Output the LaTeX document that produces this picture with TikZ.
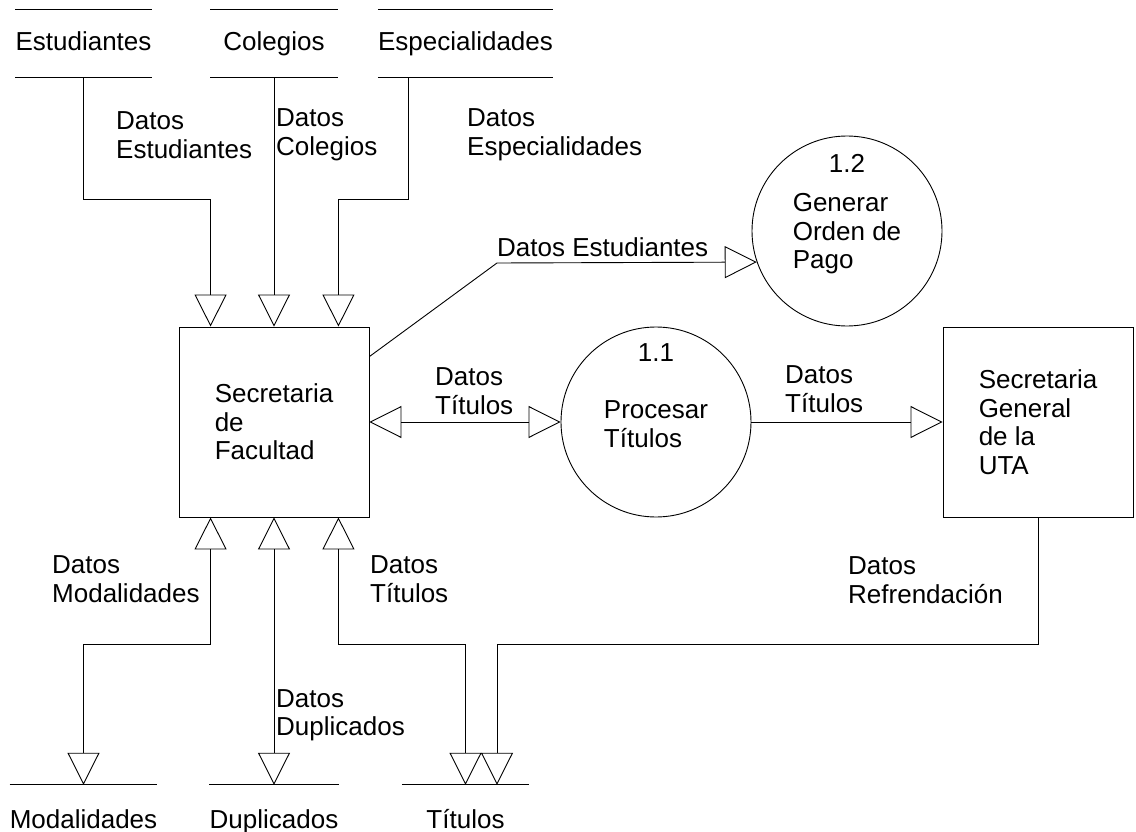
\documentclass[tikz,border=0pt]{standalone}
\usepackage{fontspec}
\setmainfont{Liberation Sans}
\usetikzlibrary{arrows.meta,calc,shapes.geometric}
\tikzset{
  tri/.tip={Triangle[open,length=32pt,width=32pt]},
  flow/.style={draw=black,line width=0.9pt,-tri},
  both/.style={draw=black,line width=0.9pt,tri-tri},
  store/.style={minimum width=127,minimum height=67,inner sep=0,text height=19pt,text depth=5pt},
  bstore/.style={minimum width=127,minimum height=72,inner sep=0,text height=19pt,text depth=5pt},
  entity/.style={draw=black,line width=0.9pt,minimum width=190,minimum height=190,inner sep=0,align=left},
  proc/.style={draw=black,line width=0.9pt,circle,minimum size=190,inner sep=0},
  lbl/.style={align=left,inner sep=0,anchor=west},
}
\begin{document}
\begin{tikzpicture}[x=1pt,y=-1pt,font=\fontsize{26}{28.5}\selectfont]
\useasboundingbox[fill=white] (0,0) rectangle (1136,832);
% stores
\node[store] (est) at (83.5,43.5) {Estudiantes};
\node[store] (col) at (274,43.5) {Colegios};
\node[store] (esp) at (465.5,43.5) {Especialidades};
\node[bstore] (mod) at (83.5,821) {Modalidades};
\node[bstore] (dup) at (274,821) {Duplicados};
\node[bstore] (tit) at (465.5,821) {Títulos};
\foreach \s in {est,col,esp}{
  \draw[line width=0.9pt] (\s.north west) -- (\s.north east);
  \draw[line width=0.9pt] (\s.south west) -- (\s.south east);
}
\foreach \s in {mod,dup,tit}{
  \draw[line width=0.9pt] (\s.north west) -- (\s.north east);
}
% entities
\node[entity] (sf) at (274,422) {Secretaria\\de\\Facultad};
\node[entity] (sgu) at (1038,422) {Secretaria\\General\\de la\\UTA};
% processes
\node[proc] (c12) at (847,231) {};
\node (n12) at ($(c12.center)+(0,-68)$) {1.2};
\node[align=left,inner sep=0] (t12) at ($(c12.center)+(0,3)$) {Generar\\Orden de\\Pago};
\node[proc] (c11) at (656,422) {};
\node (n11) at ($(c11.center)+(0,-69)$) {1.1};
\node[align=left,inner sep=0] (t11) at ($(c11.center)+(0,2)$) {Procesar\\Títulos};
% connectors
\draw[flow] (est.south) -- ++(0,122) -| ($(sf.north west)+(32,0)$);
\draw[flow] (col.south) -- (sf.north);
\draw[flow] ($(esp.south west)+(31,0)$) -- ++(0,122) -| ($(sf.north east)+(-31,0)$);
\draw[both] ($(sf.south west)+(32,0)$) -- ++(0,127) -| (mod.north);
\draw[both] (sf.south) -- (dup.north);
\draw[both] ($(sf.south east)+(-31,0)$) -- ++(0,127) -| (tit.north);
\draw[flow] (sgu.south) -- ++(0,127) -| ($(tit.north)+(31.5,0)$);
\draw[both] (sf.east) -- (c11.west);
\draw[flow] (c11.east) -- (sgu.west);
\coordinate (b1) at (497,263);
\draw[flow] ($(sf.north east)+(0,30)$) -- (b1) -- (c12.199.7);
% labels
\node[lbl] (l1) at (116,135) {Datos\\Estudiantes};
\node[lbl] (l2) at (276,135) {Datos\\Colegios};
\node[lbl] (l3) at (467,135) {Datos\\Especialidades};
\node[lbl] (l4) at (497,247) {Datos Estudiantes};
\node[lbl] (l5) at (435,391) {Datos\\Títulos};
\node[lbl] (l6) at (785,389) {Datos\\Títulos};
\node[lbl] (l7) at (52,579) {Datos\\Modalidades};
\node[lbl] (l8) at (370,579) {Datos\\Títulos};
\node[lbl] (l9) at (276,715) {Datos\\Duplicados};
\node[lbl] (l10) at (848,580) {Datos\\Refrendación};
\end{tikzpicture}
\end{document}
